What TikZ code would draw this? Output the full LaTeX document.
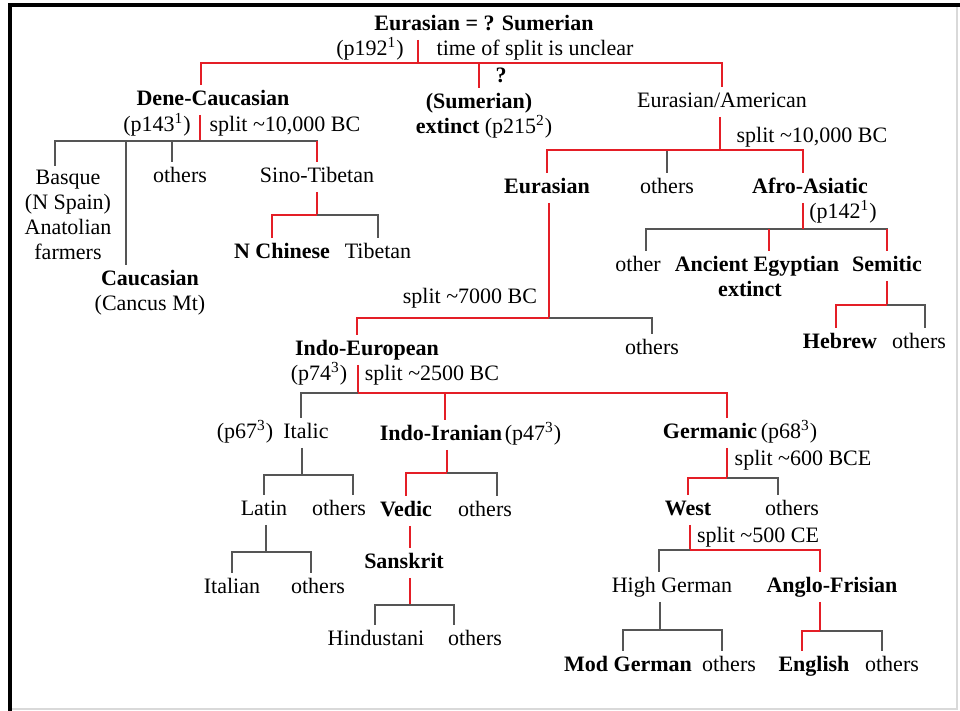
\documentclass[tikz,border=0pt]{standalone}
\usepackage{fontspec}
\setmainfont{Liberation Serif}
\definecolor{splitred}{RGB}{228,30,38}
\definecolor{branchgray}{RGB}{85,85,85}
\begin{document}
\begin{tikzpicture}[x=0.5pt, y=-0.5pt, font=\fontsize{11}{12.5}\selectfont, line join=miter,
	lab/.style={inner sep=2pt, text height=8pt, text depth=2.5pt},
	bf/.style={lab, font=\fontsize{11}{12.5}\selectfont\bfseries},
	stack/.style={inner sep=2pt, align=center},
	hist/.style={draw=splitred, line width=1.4pt},
	twig/.style={draw=branchgray, line width=0.7pt}]
	\def\spl{split \textasciitilde}
	\useasboundingbox (0,0) rectangle (960,711);
	\draw[black!15, line width=0.6pt] (957,5) -- (957,709) -- (10,709);
	\draw[line width=1.6pt] (10,711) -- (10,5) -- (960,5);
	
	% root
	\node[bf] (root) at (484,25) {Eurasian = ? Sumerian};
	\node[lab] (p192) at (370,50) {(p192\textsuperscript{1})};
	\node[lab] (rootnote) at (535,50) {time of split is unclear};
	\coordinate (rootjn) at (418,63);
	\node[bf] (dene) at (213,100) {Dene-Caucasian};
	\node[bf] (q) at (501,77) {?};
	\node[bf] (sumer) at (479,103) {(Sumerian)};
	\node[lab] (sumerx) at (484,128) {\textbf{extinct} (p215\textsuperscript{2})};
	\node[lab] (eam) at (722,102) {Eurasian/American};
	\draw[hist] (root.south -| rootjn) -- (rootjn);
	\draw[hist] (rootjn) -| ([xshift=-6pt]dene.north);
	\draw[hist] (rootjn) -| (sumer.north);
	\draw[hist] (rootjn) -| (eam.north);
	
	% Dene-Caucasian
	\node[lab] (p143) at (157,126) {(p143\textsuperscript{1})};
	\node[lab] (dsplit) at (285,126) {\spl 10,000 BC};
	\coordinate (djn) at (200,141);
	\node[stack] (basque) at (68,215) {Basque\\(N Spain)\\Anatolian\\farmers};
	\node[bf] (cauc) at (150,280) {Caucasian};
	\node[lab] (caucmt) at (150,305) {(Cancus Mt)};
	\node[lab] (dothers) at (180,177) {others};
	\node[lab] (sino) at (317,177) {Sino-Tibetan};
	\draw[hist] (dene.south -| djn) -- (djn);
	\draw[twig] (djn) -| ([xshift=-6.5pt]basque.north);
	\draw[twig] (djn) -| ([xshift=-12pt]cauc.north);
	\draw[twig] (djn) -| ([xshift=-4pt]dothers.north);
	\draw[twig] (djn) -| (sino.north);
	\draw[hist] (sino.north |- djn) -- (sino.north);
	
	% Sino-Tibetan
	\coordinate (sjn) at (317,215);
	\node[bf] (nchin) at (282,253) {N Chinese};
	\node[lab] (tib) at (378,253) {Tibetan};
	\draw[hist] (sino.south -| sjn) -- (sjn);
	\draw[twig] (sjn) -| (tib.north);
	\draw[hist] (sjn) -| ([xshift=-5pt]nchin.north);
	
	% Eurasian/American
	\node[lab] (easplit) at (812,137) {\spl 10,000 BC};
	\coordinate (eajn) at (720,150);
	\node[bf] (eur) at (547,188) {Eurasian};
	\node[lab] (eaothers) at (667,188) {others};
	\node[bf] (afro) at (810,188) {Afro-Asiatic};
	\draw[twig] (eajn) -| (eaothers.north);
	\draw[hist] (eam.south -| eajn) -- (eajn);
	\draw[hist] (eajn) -| (eur.north);
	\draw[hist] (eajn) -| ([xshift=-3.5pt]afro.north);
	
	% Afro-Asiatic
	\node[lab] (p142) at (843,213) {(p142\textsuperscript{1})};
	\coordinate (ajn) at (803,229);
	\node[lab] (aother) at (638,266) {other};
	\node[bf] (egypt) at (757,266) {Ancient Egyptian};
	\node[bf] (egyptx) at (750,291) {extinct};
	\node[bf] (semit) at (887,266) {Semitic};
	\draw[twig] (ajn) -| ([xshift=4pt]aother.north);
	\draw[twig] (ajn) -| (semit.north);
	\draw[hist] (afro.south -| ajn) -- (ajn);
	\draw[hist] ([xshift=6pt]egypt.north |- ajn) -- ([xshift=6pt]egypt.north);
	\draw[hist] (semit.north |- ajn) -- (semit.north);
	
	% Semitic
	\coordinate (smjn) at (887,305);
	\node[bf] (hebrew) at (840,343) {Hebrew};
	\node[lab] (smothers) at (919,343) {others};
	\draw[hist] (semit.south -| smjn) -- (smjn);
	\draw[twig] (smjn) -| ([xshift=3pt]smothers.north);
	\draw[hist] (smjn) -| ([xshift=-2pt]hebrew.north);
	
	% Eurasian
	\node[lab] (esplit) at (470,298) {\spl 7000 BC};
	\coordinate (ejn) at (549,318);
	\node[bf] (ie) at (367,350) {Indo-European};
	\node[lab] (eothers) at (652,349) {others};
	\draw[hist] (eur.south -| ejn) -- (ejn);
	\draw[twig] (ejn) -| (eothers.north);
	\draw[hist] (ejn) -| ([xshift=-5pt]ie.north);
	
	% Indo-European
	\node[lab] (p74) at (319,375) {(p74\textsuperscript{3})};
	\node[lab] (iesplit) at (432,375) {\spl 2500 BC};
	\coordinate (iejn) at (358,393);
	\node[lab] (p67) at (245,433) {(p67\textsuperscript{3})};
	\node[lab] (italic) at (306,433) {Italic};
	\node[bf] (indir) at (441,435) {Indo-Iranian};
	\node[lab] (p47) at (533,435) {(p47\textsuperscript{3})};
	\node[bf] (germ) at (710,433) {Germanic};
	\node[lab] (p68) at (789,433) {(p68\textsuperscript{3})};
	\draw[hist] (ie.south -| iejn) -- (iejn);
	\draw[twig] (iejn) -| ([xshift=-2.5pt]italic.north);
	\draw[hist] (iejn) -| ([xshift=2pt]indir.north);
	\draw[hist] (iejn) -| ([xshift=8.5pt]germ.north);
	
	% Italic
	\coordinate (itjn) at (302,475);
	\node[lab] (latin) at (264,510) {Latin};
	\node[lab] (itothers) at (339,510) {others};
	\draw[twig] (italic.south -| itjn) -- (itjn);
	\draw[twig] (itjn) -| (latin.north);
	\draw[twig] (itjn) -| ([xshift=7pt]itothers.north);
	\coordinate (ljn) at (266,552);
	\node[lab] (italian) at (232,588) {Italian};
	\node[lab] (lothers) at (318,588) {others};
	\draw[twig] (latin.south -| ljn) -- (ljn);
	\draw[twig] (ljn) -| (italian.north);
	\draw[twig] (ljn) -| ([xshift=-3.5pt]lothers.north);
	
	% Indo-Iranian
	\coordinate (iijn) at (447,473);
	\node[bf] (vedic) at (406,511) {Vedic};
	\node[lab] (iiothers) at (485,511) {others};
	\node[bf] (sansk) at (404,563) {Sanskrit};
	\draw[hist] (indir.south -| iijn) -- (iijn);
	\draw[twig] (iijn) -| ([xshift=6pt]iiothers.north);
	\draw[hist] (iijn) -| (vedic.north);
	\draw[hist] ([xshift=2pt]vedic.south) -- ([xshift=2pt]vedic.south |- sansk.north);
	\coordinate (sajn) at (410,605);
	\node[lab] (hindi) at (376,640) {Hindustani};
	\node[lab] (saothers) at (475,640) {others};
	\draw[hist] (sansk.south -| sajn) -- (sajn);
	\draw[twig] (sajn) -| ([xshift=-0.5pt]hindi.north);
	\draw[twig] (sajn) -| ([xshift=-10.5pt]saothers.north);
	
	% Germanic
	\node[lab] (gsplit) at (803,460) {\spl 600 BCE};
	\coordinate (gjn) at (727,478);
	\node[bf] (west) at (688,510) {West};
	\node[lab] (gothers) at (792,510) {others};
	\draw[hist] (germ.south -| gjn) -- (gjn);
	\draw[twig] (gjn) -| ([xshift=-7pt]gothers.north);
	\draw[hist] (gjn) -| (west.north);
	
	% West
	\node[lab] (wsplit) at (758,537) {\spl 500 CE};
	\coordinate (wjn) at (690,550);
	\node[lab] (hgerm) at (672,587) {High German};
	\node[bf] (anglo) at (832,587) {Anglo-Frisian};
	\draw[hist] (west.south -| wjn) -- (wjn);
	\draw[twig] (wjn) -| ([xshift=-6.5pt]hgerm.north);
	\draw[hist] (wjn) -| ([xshift=-6pt]anglo.north);
	\coordinate (hjn) at (660,630);
	\node[bf] (modg) at (628,666) {Mod German};
	\node[lab] (hothers) at (729,666) {others};
	\draw[twig] (hgerm.south -| hjn) -- (hjn);
	\draw[twig] (hjn) -| ([xshift=-2.5pt]modg.north);
	\draw[twig] (hjn) -| ([xshift=-3.5pt]hothers.north);
	\coordinate (afjn) at (820,631);
	\node[bf] (english) at (814,666) {English};
	\node[lab] (afothers) at (892,666) {others};
	\draw[hist] (anglo.south -| afjn) -- (afjn);
	\draw[twig] (afjn) -| ([xshift=-5pt]afothers.north);
	\draw[hist] (afjn) -| ([xshift=-6pt]english.north);
\end{tikzpicture}
\end{document}
